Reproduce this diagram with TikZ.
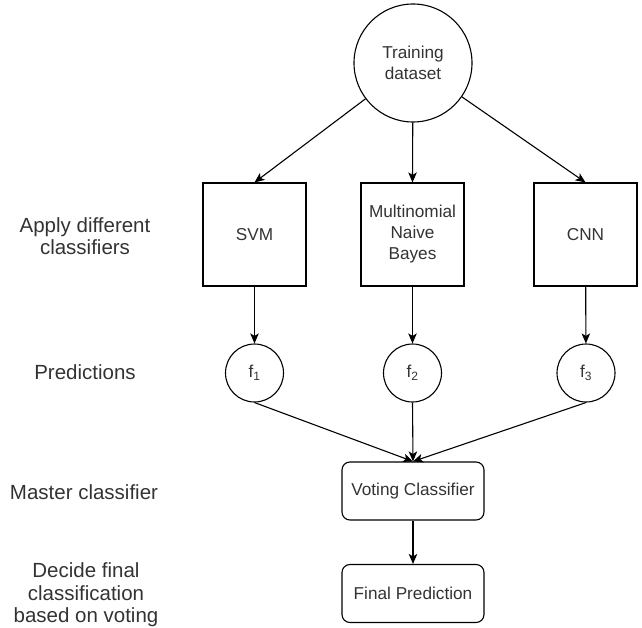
\documentclass[tikz,border=0pt]{standalone}
\usepackage{fontspec}
\setmainfont{Liberation Sans}
\usetikzlibrary{arrows.meta}
\definecolor{txt}{HTML}{333333}
\begin{document}
\begin{tikzpicture}[x=1pt,y=-1pt,
  every node/.style={text=txt, font=\fontsize{17.2}{21}\selectfont, align=center, inner sep=0pt},
  circ/.style={draw=black, circle, line width=1.1pt},
  box/.style={draw=black, rectangle, line width=1.1pt, minimum width=103pt, minimum height=103pt},
  rbox/.style={draw=black, rectangle, rounded corners=8pt, line width=1.1pt, minimum width=142pt, minimum height=58pt},
  lab/.style={font=\fontsize{20.5}{22.5}\selectfont},
  arr/.style={-{Stealth[length=10pt,width=8.5pt,inset=2.5pt]}, line width=1.1pt, draw=black}]
\useasboundingbox (0,0) rectangle (642,628);
% main nodes
\node[circ, minimum size=118pt] (train) at (413,63) {Training\\dataset};
\node[box] (svm) at (254.5,234.5) {SVM};
\node[box] (mnb) at (412.5,234.5) {Multinomial\\Naive\\Bayes};
\node[box] (cnn) at (585.5,234.5) {CNN};
\node[circ, minimum size=58pt] (f1) at (254.5,373) {f\textsubscript{1}};
\node[circ, minimum size=58pt] (f2) at (412.5,373) {f\textsubscript{2}};
\node[circ, minimum size=58pt] (f3) at (586,373) {f\textsubscript{3}};
\node[rbox] (vote) at (413,491) {Voting Classifier};
\node[rbox] (final) at (413,593.5) {Final Prediction};
% left labels
\node[lab] (l1) at (85,236) {Apply different\\classifiers};
\node[lab] (l2) at (85,372) {Predictions};
\node[lab] (l3) at (84,492) {Master classifier};
\node[lab] (l4) at (86,595) {Decide final\\classification\\based on voting};
% connectors
\draw[arr] (train) -- (svm.north);
\draw[arr] (train) -- (mnb.north);
\draw[arr] (train) -- (cnn.north);
\draw[arr] (svm) -- (f1);
\draw[arr] (mnb) -- (f2);
\draw[arr] (cnn) -- (f3);
\draw[arr] (f1.south) -- (vote.north);
\draw[arr] (f2.south) -- (vote.north);
\draw[arr] (f3.south) -- (vote.north);
\draw[arr] (vote) -- (final);
\end{tikzpicture}
\end{document}
